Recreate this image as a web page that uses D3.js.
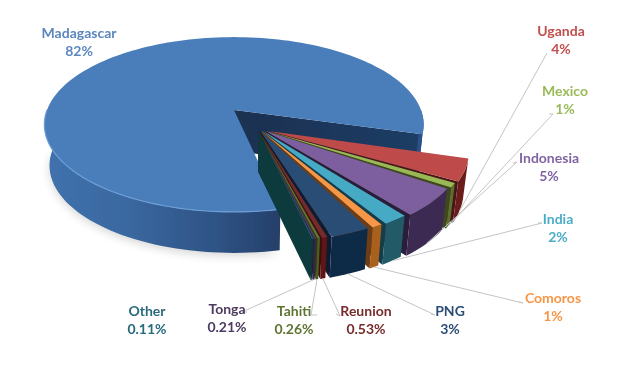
<!DOCTYPE html>
<html><head><meta charset="utf-8">
<script src="https://cdn.jsdelivr.net/npm/d3@7"></script>
<style>html,body{margin:0;background:#fff}svg{display:block}text{font-family:Lato,"Open Sans",sans-serif;font-weight:700;font-size:14px;text-anchor:middle}</style>
</head><body><svg id="c" width="632" height="368"></svg>
<script>
const categories=["Madagascar","Uganda","Mexico","Indonesia","India","Comoros","PNG","Reunion","Tahiti","Tonga","Other"];
const values=[82,4,1,5,2,1,3,0.53,0.26,0.21,0.11];
const valueLabels=["82%","4%","1%","5%","2%","1%","3%","0.53%","0.26%","0.21%","0.11%"];
const topColors=["#4a7ebb","#be4b48","#98b954","#7d5fa0","#46aac5","#f79646","#2c4d75","#772c2a","#5f7530","#4d3b62","#276a7c"];
const sideColors=["#2f5a92","#6b1f1e","#5c7030","#3d2c52","#215a68","#a9601e","#0f2a47","#5e1212","#4a5e24","#33264a","#0f3a3e"];
const wallColors=["#1d3557","#4a1816","#3c4a1e","#2a1e3a","#123c46","#6e3d12","#0a1d33","#3f0c0c","#2e3a16","#231a33","#0f3a3e"];
const textColors=["#5b87bd","#c0504d","#9bbb59","#8064a2","#4bacc6","#f79646","#2c4d75","#772c2a","#5f7530","#4d3b5f","#276a7c"];
// label layout: x, baseline y of first line, then leader waypoints next to the label
const labelPos=[[79,38,null],[561,36,[[547,53]]],[565,96,[[553,114],[549,114]]],[549,163,[[517,162],[513,163]]],[558,224,[[542,223],[538,223]]],[553,303,[[523,303],[519,302]]],[450,316,[[435,315],[431,314]]],[366,316,[[340,316],[336,314]]],[294,316,[[311,315],[317,315]]],[227,314,[[242,312],[247,312]]],[147,316,null]];

const svg=d3.select("#c");
const CX=234,CY=110,RX=187,RY=85,K=0.166,SHRINK=0.975,DROP=41;
const rad=d=>d*Math.PI/180;
function proj(u,v,z){const w=1-K*v;let x=CX+RX*u/w,y=CY+RY*v/w;
  if(z){x=250+(x-250)*SHRINK;y+=DROP;} return [x,y];}
const pie=d3.pie().sort(null).startAngle(rad(168)).endAngle(rad(168)+2*Math.PI);
const arcs=pie(values).map((d,i)=>{
  const t0=d.startAngle-Math.PI/2,t1=d.endAngle-Math.PI/2;
  const inset=i?Math.min(rad(0.45),(t1-t0)*0.15):0;
  return {i,t0:t0+inset,t1:t1-inset,mid:(t0+t1)/2};});
const line=d3.line().curve(d3.curveLinearClosed);
const open=d3.line();
const span=[arcs[1].mid,arcs[10].mid];
const offX=d3.scaleLinear().domain(span).range([0.185,0.125]);
const offY=d3.scaleLinear().domain(span).range([0.24,0.235]);
function offset(a){return a.i===0?[0,0]:[offX(a.mid),offY(a.mid)];}
function rim(a,z,t0=a.t0,t1=a.t1){const o=offset(a);const n=Math.max(2,Math.ceil((t1-t0)/rad(2)));
  return d3.range(n+1).map(j=>{const t=t0+(t1-t0)*j/n;return proj(o[0]+Math.cos(t),o[1]+Math.sin(t),z);});}
function apex(a,z){const o=offset(a);return proj(o[0],o[1],z);}

const defs=svg.append("defs");
defs.append("filter").attr("id","sh").attr("x","-20%").attr("y","-50%").attr("width","140%").attr("height","200%").append("feGaussianBlur").attr("stdDeviation",5);
defs.append("filter").attr("id","soft").append("feGaussianBlur").attr("stdDeviation",0.45);
const g=defs.append("linearGradient").attr("id","blueSide");
[[0,"#4072ad"],[0.35,"#3a68a0"],[0.75,"#2d5283"],[1,"#253f69"]].forEach(s=>g.append("stop").attr("offset",s[0]).attr("stop-color",s[1]));
const w=defs.append("linearGradient").attr("id","navy").attr("x1",0).attr("x2",1);
[[0,"#1c3050"],[1,"#1f3d66"]].forEach(s=>w.append("stop").attr("offset",s[0]).attr("stop-color",s[1]));

const chart=svg.append("g").attr("filter","url(#soft)");
const m=arcs[0];
chart.append("path").attr("d",line(rim(m,1,m.t0,Math.PI).map(p=>[p[0],p[1]+3]))).attr("fill","#000").attr("opacity",0.16).attr("filter","url(#sh)");
chart.append("path").attr("d",line([apex(m,0),...rim(m,0,m.t1-0.001,m.t1),...rim(m,1,m.t1-0.001,m.t1).reverse(),apex(m,1)])).attr("fill","url(#navy)");
chart.append("path").attr("d",line([...rim(m,0,m.t0,Math.PI),...rim(m,1,m.t0,Math.PI).reverse()])).attr("fill","url(#blueSide)");
chart.append("path").attr("d",line([...rim(m,0,rad(360),m.t1),...rim(m,1,rad(360),m.t1).reverse()])).attr("fill","#2c5187");
chart.append("path").attr("d",line([apex(m,0),...rim(m)])).attr("fill",topColors[0]);
chart.append("path").attr("d",open(rim(m,0,m.t0,Math.PI))).attr("fill","none").attr("stroke","#6f9fd6").attr("stroke-width",1.2);

const rest=chart.selectAll("g.s").data(arcs.slice(1)).join("g").attr("class","s");
rest.append("path").attr("d",a=>line([apex(a,0),rim(a,0).at(-1),rim(a,1).at(-1),apex(a,1)])).attr("fill",a=>wallColors[a.i]);
rest.append("path").attr("d",a=>line([...rim(a,0),...rim(a,1).reverse()])).attr("fill",a=>sideColors[a.i]);
rest.append("path").attr("d",a=>line([apex(a,0),...rim(a,0)])).attr("fill",a=>topColors[a.i]);

const leaders=svg.append("g").attr("fill","none").attr("stroke","#c4c4c4").attr("stroke-width",1);
arcs.forEach(a=>{const lp=labelPos[a.i];if(!lp[2])return;
  const o=offset(a);const p=proj(o[0]+Math.cos(a.mid),o[1]+Math.sin(a.mid),1);
  leaders.append("path").attr("d",open([p,...lp[2]]));});

const lab=svg.selectAll("g.l").data(categories).join("g").attr("class","l").attr("fill",(d,i)=>textColors[i]).attr("filter","url(#soft)");
lab.append("text").attr("x",(d,i)=>labelPos[i][0]).attr("y",(d,i)=>labelPos[i][1]).text(d=>d);
lab.append("text").attr("x",(d,i)=>labelPos[i][0]).attr("y",(d,i)=>labelPos[i][1]+18).text((d,i)=>valueLabels[i]);
</script></body></html>
